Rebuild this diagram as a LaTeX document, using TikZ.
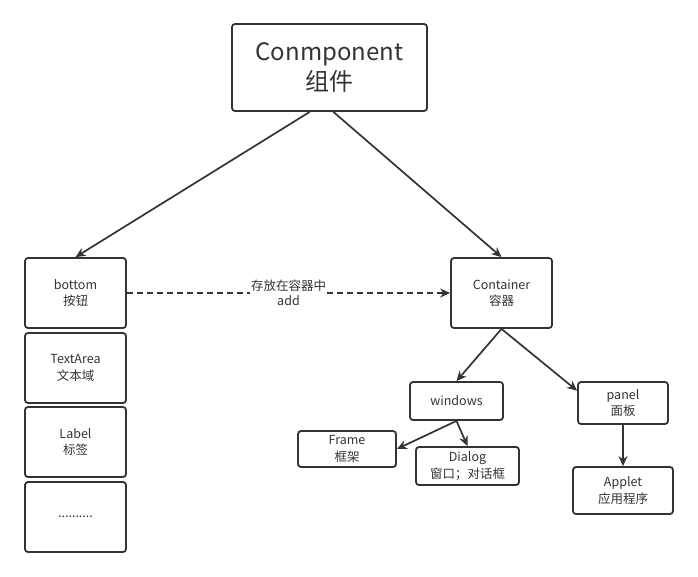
\documentclass[tikz,border=0pt]{standalone}
\usepackage{fontspec}
\setmainfont{Noto Sans CJK SC}
\usetikzlibrary{arrows.meta}
\definecolor{ink}{HTML}{333333}
\begin{document}
\begin{tikzpicture}[x=1pt, y=-1pt,
	box/.style = {draw = ink, line width = 1.8pt, rounded corners = 3pt, align = center,
		text = ink, inner sep = 0pt, font = \fontsize{12.5}{16.5}\selectfont},
	link/.style = {draw = ink, line width = 1.7pt, -{Stealth[length = 10pt, width = 9pt]}}]
	\useasboundingbox (0,0) rectangle (698,576);
	% top
	\node [box, minimum width = 195pt, minimum height = 87pt, font = \fontsize{24}{30}\selectfont]
		(comp) at (329.5,67.5) {Conmponent\\组件};
	% left column
	\node [box, minimum width = 101pt, minimum height = 70pt] (bottom) at (75.5,293) {bottom\\按钮};
	\node [box, minimum width = 101pt, minimum height = 70pt] (textarea) at (75.5,368) {TextArea\\文本域};
	\node [box, minimum width = 101pt, minimum height = 70pt] (label) at (75.5,442) {Label\\标签};
	\node [box, minimum width = 101pt, minimum height = 70pt] (more) at (75.5,517) {..........};
	% right side
	\node [box, minimum width = 101pt, minimum height = 70pt] (container) at (501.5,293) {Container\\容器};
	\node [box, minimum width = 93pt, minimum height = 38pt] (windows) at (456.5,401) {windows};
	\node [box, minimum width = 98pt, minimum height = 36pt] (frame) at (347,449) {Frame\\框架};
	\node [box, minimum width = 103pt, minimum height = 38pt] (dialog) at (467.5,466) {Dialog\\窗口；对话框};
	\node [box, minimum width = 90pt, minimum height = 42pt] (panel) at (623,403) {panel\\面板};
	\node [box, minimum width = 100pt, minimum height = 47pt] (applet) at (623,490.5) {Applet\\应用程序};
	% links
	\draw [link] (comp.246) -- (bottom.north);
	\draw [link] (comp.275) -- (container.north);
	\draw [link, dashed, dash pattern = on 6pt off 4pt] (bottom.east) -- (container.west)
		node [midway, fill = white, inner sep = 1pt, align = center, text = ink,
			font = \fontsize{12.5}{14.5}\selectfont] (store) {存放在容器中\\add};
	\draw [link] (container.south) -- (windows.north);
	\draw [link] (container.south) -- (panel.165);
	\draw [link] (windows.south) -- (frame.east);
	\draw [link] (windows.south) -- (dialog.north);
	\draw [link] (panel.south) -- (applet.north);
\end{tikzpicture}
\end{document}
